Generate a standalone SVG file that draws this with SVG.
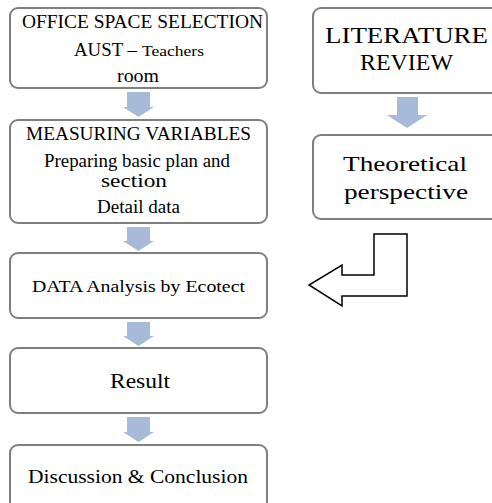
<svg xmlns="http://www.w3.org/2000/svg" width="492" height="503" viewBox="0 0 492 503">
<defs>
<style>
.box{fill:#fff;stroke:#7f7f7f;stroke-width:2}
text{font-family:'Liberation Serif','DejaVu Serif','Times New Roman',serif;fill:#000}
.dn{fill:#a7bad7}
.big{fill:#fff;stroke:#000;stroke-width:1.5;stroke-linejoin:miter}
</style>
</defs>
<rect width="492" height="503" fill="#fff"/>
<g id="office">
<rect class="box" x="10" y="8" width="257" height="80" rx="8"/>
<text x="22" y="28" font-size="18.5" textLength="241" lengthAdjust="spacingAndGlyphs">OFFICE SPACE SELECTION</text>
<text x="74" y="56" font-size="19" textLength="63" lengthAdjust="spacingAndGlyphs">AUST –</text>
<text x="142" y="56" font-size="14" textLength="62" lengthAdjust="spacingAndGlyphs">Teachers</text>
<text x="117" y="82" font-size="19" textLength="42" lengthAdjust="spacingAndGlyphs">room</text>
</g>
<g id="measuring">
<rect class="box" x="10" y="120" width="257" height="103" rx="8"/>
<text x="26" y="140" font-size="18" textLength="225" lengthAdjust="spacingAndGlyphs">MEASURING VARIABLES</text>
<text x="44" y="167" font-size="18" textLength="186" lengthAdjust="spacingAndGlyphs">Preparing basic plan and</text>
<text x="101" y="187" font-size="18" textLength="66" lengthAdjust="spacingAndGlyphs">section</text>
<text x="97" y="213" font-size="18" textLength="83" lengthAdjust="spacingAndGlyphs">Detail data</text>
</g>
<g id="analysis">
<rect class="box" x="10" y="253" width="257" height="65" rx="8"/>
<text x="32" y="292" font-size="17" textLength="213" lengthAdjust="spacingAndGlyphs">DATA Analysis by Ecotect</text>
</g>
<g id="result">
<rect class="box" x="10" y="348" width="257" height="65" rx="8"/>
<text x="110" y="388" font-size="22" textLength="60" lengthAdjust="spacingAndGlyphs">Result</text>
</g>
<g id="discussion">
<rect class="box" x="10" y="445" width="257" height="70" rx="8"/>
<text x="28" y="483" font-size="18" textLength="220" lengthAdjust="spacingAndGlyphs">Discussion &amp; Conclusion</text>
</g>
<g id="literature">
<rect class="box" x="313" y="8" width="200" height="85" rx="8"/>
<text x="325" y="43" font-size="23" textLength="163" lengthAdjust="spacingAndGlyphs">LITERATURE</text>
<text x="360" y="70" font-size="23" textLength="93" lengthAdjust="spacingAndGlyphs">REVIEW</text>
</g>
<g id="theoretical">
<rect class="box" x="313" y="135" width="200" height="84" rx="8"/>
<text x="343" y="171" font-size="22" textLength="124" lengthAdjust="spacingAndGlyphs">Theoretical</text>
<text x="344" y="199" font-size="22" textLength="124" lengthAdjust="spacingAndGlyphs">perspective</text>
</g>
<g id="connectors">
<path class="dn" d="M127,92 H150 V107 H154 L138.5,117 L123,107 H127 Z"/>
<path class="dn" d="M127,227 H150 V241 H154 L138.5,251 L123,241 H127 Z"/>
<path class="dn" d="M127,322 H150 V336 H154 L138.5,346 L123,336 H127 Z"/>
<path class="dn" d="M127,417 H150 V432 H154 L138.5,442 L123,432 H127 Z"/>
<path class="dn" d="M397,97 H418 V115 H427 L407,128 L387,115 H397 Z"/>
<polygon class="big" points="374,234 407,234 407,296 342,296 342,306 309,285 342,265 342,275 374,275"/>
</g>
</svg>
